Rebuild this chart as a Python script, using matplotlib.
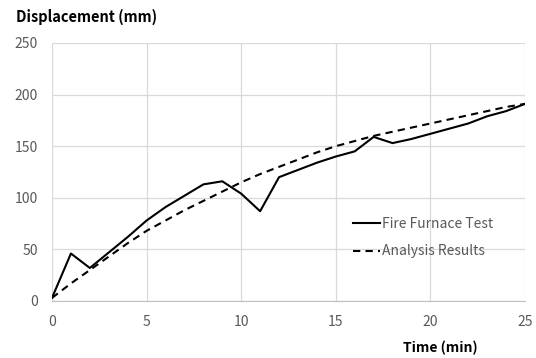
import matplotlib
matplotlib.use("Agg")
import matplotlib.pyplot as plt

plt.rcParams['font.family'] = ['Noto Sans CJK KR', 'DejaVu Sans']

# --- DATA ---
time_min = list(range(0, 26))
fire_test = [3, 46, 32, 47, 62, 78, 91, 102, 113, 116, 104, 87, 120, 127,
             134, 140, 145, 159, 153, 157, 162, 167, 172, 179, 184, 191]
analysis = [3, 17, 30, 43, 56, 68, 78, 88, 97, 106, 115, 123, 130, 137,
            144, 150, 155, 160, 164, 168, 172, 176, 180, 184, 188, 191]
x_ticks = [0, 5, 10, 15, 20, 25]
y_ticks = [0, 50, 100, 150, 200, 250]
# -------------------------------------

GRID = '#d9d9d9'
TICK = '#595959'

fig = plt.figure(figsize=(5.36, 3.58), dpi=100)
ax = fig.add_axes([52 / 536, 1 - 301 / 358, 473 / 536, 258 / 358])

ax.plot(time_min, fire_test, color='black', lw=1.5, label='Fire Furnace Test')
ax.plot(time_min, analysis, color='black', lw=1.5, ls=(0, (3.5, 2.5)),
        label='Analysis Results')

ax.set_xlim(0, 25)
ax.set_ylim(0, 250)
ax.set_xticks(x_ticks)
ax.set_yticks(y_ticks)
ax.grid(True, color=GRID, lw=0.9)
ax.set_axisbelow(True)
for s in ax.spines.values():
    s.set_visible(False)
ax.spines['bottom'].set_visible(True)
ax.spines['bottom'].set_color('#bfbfbf')
ax.tick_params(length=0, colors=TICK, labelsize=10)
ax.tick_params(axis='x', pad=10)
ax.tick_params(axis='y', pad=10)

fig.text(16 / 536, 1 - 17 / 358, 'Displacement (mm)', fontsize=10.5,
         fontweight='bold', va='center', ha='left')
fig.text(440 / 536, 1 - 348 / 358, 'Time (min)', fontsize=10,
         fontweight='bold', va='center', ha='center')

leg = ax.legend(loc='center left', bbox_to_anchor=(0.609, 0.245), frameon=False,
                handlelength=2.0, handletextpad=0.1, labelspacing=0.95,
                fontsize=10)
for t in leg.get_texts():
    t.set_color(TICK)

fig.savefig('out.png', dpi=100)
